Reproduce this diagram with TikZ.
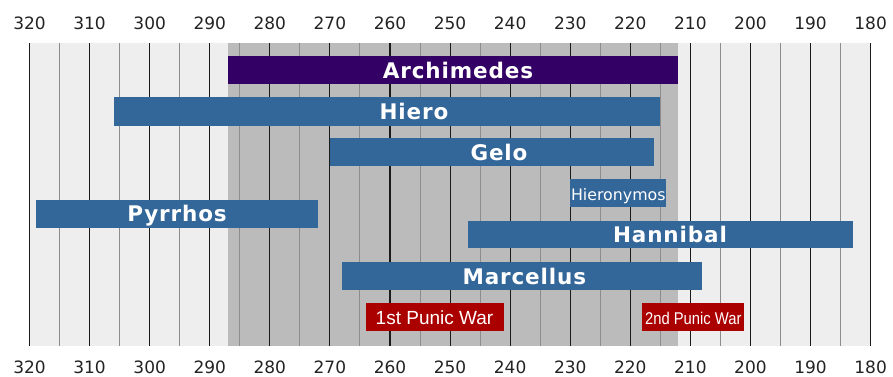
\documentclass[tikz,border=0pt]{standalone}
\usepackage{fontspec}
\setmainfont{DejaVu Sans}
\newfontfamily\barfont[LetterSpace=4]{DejaVu Sans}
\newfontfamily\warfont{Liberation Sans}
\definecolor{archc}{HTML}{330066}
\definecolor{bluec}{HTML}{336699}
\definecolor{redc}{HTML}{AA0000}
\definecolor{bglight}{HTML}{EEEEEE}
\definecolor{bgdark}{HTML}{BBBBBB}
\definecolor{minorc}{HTML}{8C8C8C}
\definecolor{majorc}{HTML}{1A1A1A}
\definecolor{numc}{HTML}{222222}
\tikzset{
  majorline/.style={draw=majorc, line width=1.1pt},
  minorline/.style={draw=minorc, line width=1pt},
  num/.style={font=\fontsize{17}{17}\selectfont, text=numc, anchor=base, inner sep=0pt},
  barlabel/.style={font=\barfont\bfseries\fontsize{21.5}{21.5}\selectfont, text=white, anchor=base, inner sep=0pt},
  smalllabel/.style={font=\fontsize{15.8}{16}\selectfont, text=white, anchor=base, inner sep=0pt},
  warlabel/.style={font=\warfont\fontsize{19}{19}\selectfont, text=white, anchor=base, inner sep=0pt}
}
\begin{document}
\begin{tikzpicture}[x=1pt,y=-1pt, declare function={X(\t)=29.5+(320-\t)*6.008;}]
\useasboundingbox (0,0) rectangle (893,376);
% background
\fill[bglight] ({X(320)},43) rectangle ({X(180)},346);
\fill[bgdark] ({X(287)},43) rectangle ({X(212)},346);
% grid
\foreach \t in {315,305,...,185} \draw[minorline] ({X(\t)},43) -- ({X(\t)},346);
\foreach \t in {320,310,...,180} {
  \draw[majorline] ({X(\t)},43) -- ({X(\t)},346);
  \node[num] (top\t) at ({X(\t)},29.3) {\t};
  \node[num] (bot\t) at ({X(\t)},373.3) {\t};
}
% bars
\fill[archc] ({X(287)},56) rectangle ({X(212)},84);
\fill[bluec] ({X(306)},97.3) rectangle ({X(215)},125.7);
\fill[bluec] ({X(270)},138.3) rectangle ({X(216)},166);
\fill[bluec] ({X(230)},179.3) rectangle ({X(214)},207);
\fill[bluec] ({X(319)},200) rectangle ({X(272)},227.7);
\fill[bluec] ({X(247)},220.7) rectangle ({X(183)},248.3);
\fill[bluec] ({X(268)},262.3) rectangle ({X(208)},290);
\fill[redc] ({X(264)},302.7) rectangle ({X(241)},330.7);
\fill[redc] ({X(218)},302.7) rectangle ({X(201)},330.7);
% labels
\node[barlabel] (archimedes) at (458,78.3) {Archimedes};
\node[barlabel] (hiero) at (414,119.2) {Hiero};
\node[barlabel] (gelo) at (499,160) {Gelo};
\node[smalllabel] (hieronymos) at (618.3,200) {Hieronymos};
\node[barlabel] (pyrrhos) at (177,221.7) {Pyrrhos};
\node[barlabel] (hannibal) at (670,242.4) {Hannibal};
\node[barlabel] (marcellus) at (524.3,284) {Marcellus};
\node[warlabel] (punic1) at (434.5,324) {1st Punic War};
\node[warlabel, font=\warfont\fontsize{17}{17}\selectfont] (punic2) at (693.3,324) {\scalebox{0.87}[1]{2nd Punic War}};
\end{tikzpicture}
\end{document}
